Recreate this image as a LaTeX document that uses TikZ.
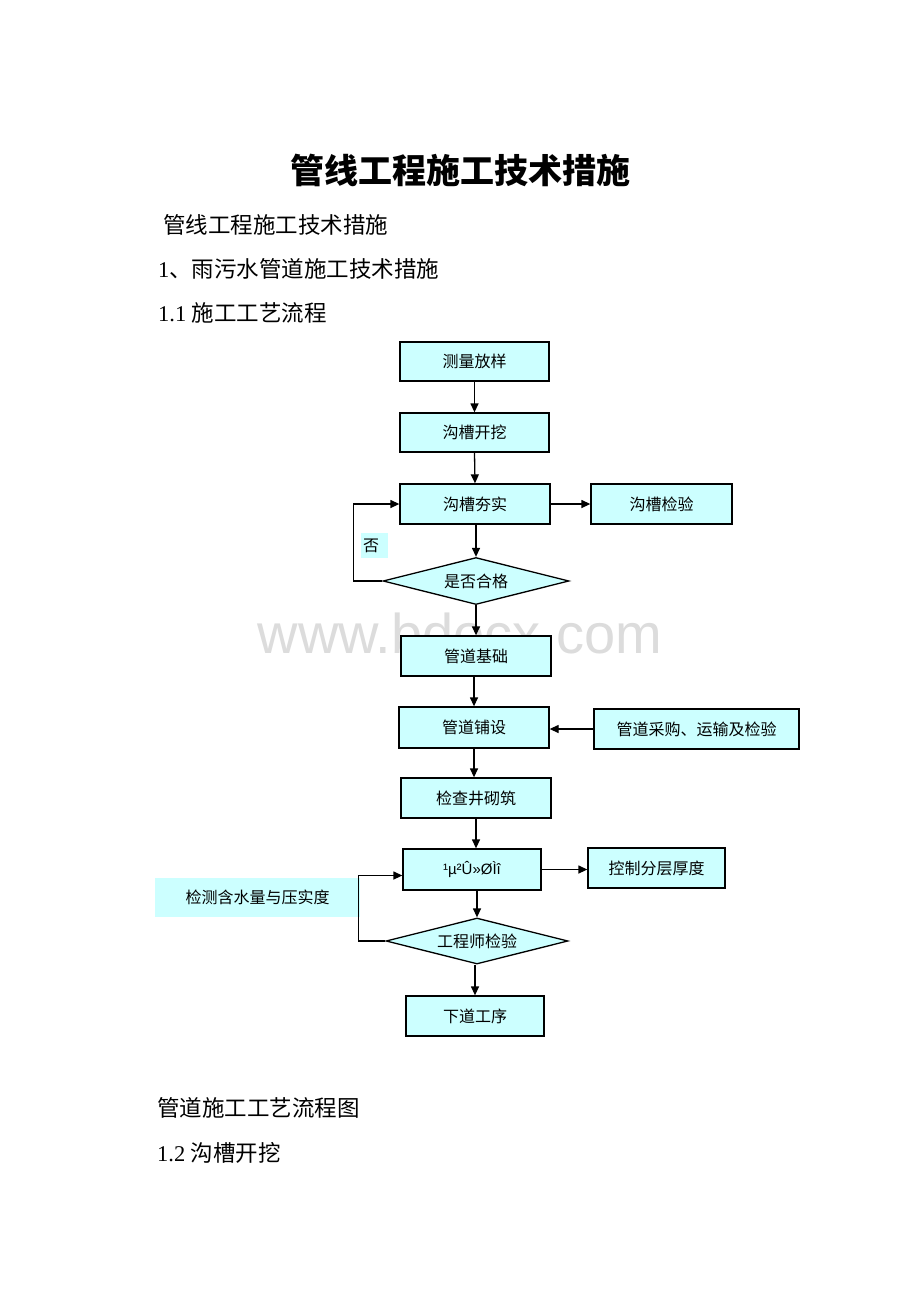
\documentclass[tikz,border=0pt]{standalone}
\usepackage{fontspec}
\setmainfont{Liberation Serif}
\newfontfamily\cjk{Noto Sans CJK SC}
\newfontfamily\arialf{Liberation Sans}
\usetikzlibrary{arrows.meta,shapes.geometric}
\definecolor{boxcyan}{HTML}{CCFFFF}
\definecolor{wmgray}{HTML}{DCDCDC}
\begin{document}
\begin{tikzpicture}[x=1pt,y=-1pt,
  stepbox/.style={draw=black, fill=boxcyan, line width=1.3pt, rectangle, inner sep=0pt,
    font=\cjk\fontsize{16}{16}\selectfont},
  decide/.style={draw=black, fill=boxcyan, line width=1.3pt, diamond, aspect=4, inner sep=0pt,
    font=\cjk\fontsize{16}{16}\selectfont},
  lab/.style={fill=boxcyan, inner sep=0pt, font=\cjk\fontsize{16}{16}\selectfont},
  arr/.style={line width=1.3pt, -{Triangle[length=9pt,width=8pt]}},
  bodytxt/.style={anchor=west, inner sep=0pt, font=\fontsize{22.5}{22.5}\selectfont}
]
\useasboundingbox[fill=white] (0,0) rectangle (920,1302);

% title and body text
\node (title) [inner sep=0pt, font=\cjk\bfseries\fontsize{34}{34}\selectfont] at (460,170) {管线工程施工技术措施};
\node (t1) [bodytxt] at (163,225) {\cjk 管线工程施工技术措施};
\node (t2) [bodytxt] at (158,269) {1{\cjk 、雨污水管道施工技术措施}};
\node (t3) [bodytxt] at (158,313) {1.1 {\cjk 施工工艺流程}};
\node (t4) [bodytxt] at (157,1108) {\cjk 管道施工工艺流程图};
\node (t5) [bodytxt] at (157,1153) {1.2 {\cjk 沟槽开挖}};

% watermark
\node (wm) [inner sep=0pt, text=wmgray, font=\arialf\fontsize{56}{56}\selectfont] at (460,633) {www.bdocx.com};

% flowchart
\node (a1) [stepbox, minimum width=149pt, minimum height=39pt] at (474.5,361.5) {测量放样};
\node (a2) [stepbox, minimum width=149pt, minimum height=39pt] at (474.5,432.5) {沟槽开挖};
\node (a3) [stepbox, minimum width=150pt, minimum height=40pt] at (475,504) {沟槽夯实};
\node (chk) [stepbox, minimum width=141pt, minimum height=40pt] at (661.5,504) {沟槽检验};
\node (d1) [decide, minimum width=186pt, minimum height=47pt] at (476,581) {是否合格};
\node (no) [lab, anchor=north west, minimum width=27pt, minimum height=25pt, text width=25pt, align=left] at (361,533) {\hspace*{1pt}否};
\node (a4) [stepbox, minimum width=150pt, minimum height=40pt] at (476,656) {管道基础};
\node (a5) [stepbox, minimum width=150pt, minimum height=41pt] at (474,727.5) {管道铺设};
\node (buy) [stepbox, minimum width=205pt, minimum height=40pt] at (696.5,729) {管道采购、运输及检验};
\node (a6) [stepbox, minimum width=150pt, minimum height=40pt] at (476,798) {检查井砌筑};
\node (a7) [stepbox, minimum width=138pt, minimum height=41pt, font=\arialf\fontsize{15}{15}\selectfont] at (472,869.5) {¹µ²Û»ØÌî};
\node (ctl) [stepbox, minimum width=137pt, minimum height=40pt] at (656.5,868) {控制分层厚度};
\node (meas) [lab, minimum width=205pt, minimum height=39pt] at (257.5,897.5) {检测含水量与压实度};
\node (d2) [decide, minimum width=182pt, minimum height=46pt] at (477,941) {工程师检验};
\node (a8) [stepbox, minimum width=138pt, minimum height=40pt] at (475,1016) {下道工序};

% connectors
\draw[arr] (a1.south) -- (a2.north);
\draw[arr] (a2.south) -- (a3.north);
\draw[arr] (a3.east) -- (chk.west);
\draw[arr] (a3.south -| d1.north) -- (d1.north);
\draw[arr] (d1.west) -- ++(-29,0) |- (a3.west);
\draw[arr] (d1.south) -- (d1.south |- a4.north);
\draw[arr] (a4.south -| a5.north) -- (a5.north);
\draw[arr] (buy.west) -- (buy.west -| a5.east);
\draw[arr] (a5.south) -- (a5.south |- a6.north);
\draw[arr] (a6.south) -- (a6.south |- a7.north);
\draw[arr] (a7.east) -- (a7.east -| ctl.west);
\draw[arr] (a7.south -| d2.north) -- (d2.north);
\draw[arr] (d2.west) -- ++(-27,0) |- ([yshift=-6pt]a7.west);
\draw[arr] (d2.south -| a8.north) -- (a8.north);
\end{tikzpicture}
\end{document}
